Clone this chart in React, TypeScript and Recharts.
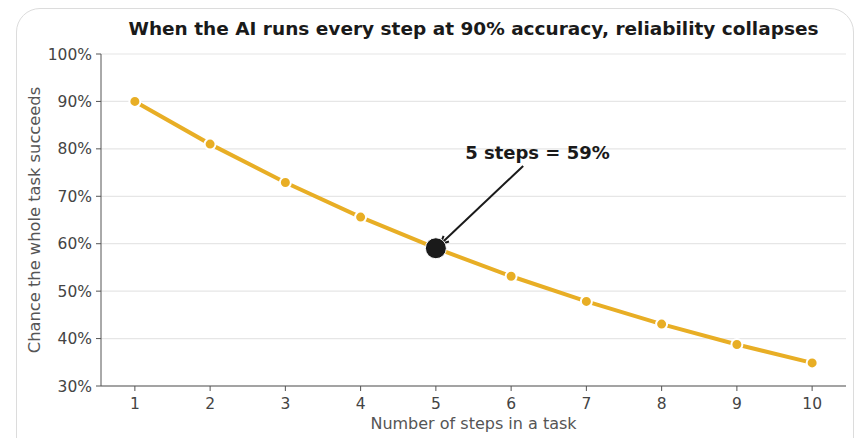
import { LineChart, Line, XAxis, YAxis, CartesianGrid, ReferenceDot, ReferenceLine } from "recharts"

const steps = [1, 2, 3, 4, 5, 6, 7, 8, 9, 10]
const successPct = [90, 81, 72.9, 65.61, 59.05, 53.14, 47.83, 43.05, 38.74, 34.87]
const yTicks = [30, 40, 50, 60, 70, 80, 90, 100]

const highlight = { step: 5, pct: 59.05, label: "5 steps = 59%" }

const data = steps.map((s, i) => ({ step: s, pct: successPct[i] }))

const GOLD = "#E8AE25"
const FONT = "'DejaVu Sans', sans-serif"

const Arrow = (props: any) => {
  const { x1, y1, x2, y2 } = props
  const ang = Math.atan2(y2 - y1, x2 - x1)
  const len = 9
  const spread = 0.45
  const ax = x2 - len * Math.cos(ang - spread)
  const ay = y2 - len * Math.sin(ang - spread)
  const bx = x2 - len * Math.cos(ang + spread)
  const by = y2 - len * Math.sin(ang + spread)
  return (
    <g stroke="#1a1a1a" strokeWidth={2} fill="none">
      <line x1={x1} y1={y1} x2={x2} y2={y2} />
      <polyline points={`${ax},${ay} ${x2},${y2} ${bx},${by}`} />
    </g>
  )
}

export default function App() {
  return (
    <div style={{ position: "absolute", left: 0, top: 0, width: 856, height: 438, overflow: "hidden", background: "#fff", fontFamily: FONT }}>
      <div
        style={{
          position: "absolute",
          left: 16,
          top: 8,
          width: 838,
          height: 470,
          border: "1.5px solid #dcdcdc",
          borderRadius: 24,
          boxSizing: "border-box",
        }}
      />
      <div style={{ position: "absolute", left: 0, top: 0 }}>
        <LineChart width={856} height={438} data={data} margin={{ top: 54, right: 10, left: 0, bottom: 0 }}>
          <text x={473.5} y={35} textAnchor="middle" fontFamily={FONT} fontSize={18.5} fontWeight="bold" fill="#1a1a1a">
            When the AI runs every step at 90% accuracy, reliability collapses
          </text>
          <CartesianGrid vertical={false} stroke="#e6e6e6" strokeWidth={1.2} />
          <XAxis
            dataKey="step"
            type="number"
            domain={[0.55, 10.45]}
            ticks={steps}
            allowDataOverflow
            height={52}
            tickSize={5}
            tickMargin={7}
            stroke="#555"
            tick={{ fill: "#444", fontSize: 15.5, fontFamily: FONT }}
            label={{ value: "Number of steps in a task", position: "insideBottom", offset: 9, fill: "#555", fontSize: 16, fontFamily: FONT }}
          />
          <YAxis
            type="number"
            domain={[30, 100]}
            ticks={yTicks}
            allowDataOverflow
            width={101}
            tickSize={5}
            tickMargin={4}
            stroke="#555"
            tickFormatter={(v: number) => `${v}%`}
            tick={{ fill: "#444", fontSize: 15.5, fontFamily: FONT }}
            label={{ value: "Chance the whole task succeeds", angle: -90, position: "insideLeft", offset: 34, fill: "#555", fontSize: 16.3, fontFamily: FONT, style: { textAnchor: "middle" } }}
          />
          <Line
            dataKey="pct"
            stroke={GOLD}
            strokeWidth={4}
            dot={{ r: 5.5, fill: GOLD, stroke: "#fff", strokeWidth: 2 }}
            isAnimationActive={false}
          />
          <ReferenceDot x={highlight.step} y={highlight.pct} r={10.5} fill="#1a1a1a" stroke="#fff" strokeWidth={1} />
          <ReferenceLine
            segment={[
              { x: 6.16, y: 76.4 },
              { x: 5.06, y: 59.9 },
            ]}
            shape={Arrow}
          />
          <ReferenceDot
            x={6.35}
            y={79.1}
            r={0}
            shape={(p: any) => (
              <text x={p.cx} y={p.cy + 6} textAnchor="middle" fontFamily={FONT} fontSize={18} fontWeight="bold" fill="#1a1a1a">
                {highlight.label}
              </text>
            )}
          />
        </LineChart>
      </div>
    </div>
  )
}
